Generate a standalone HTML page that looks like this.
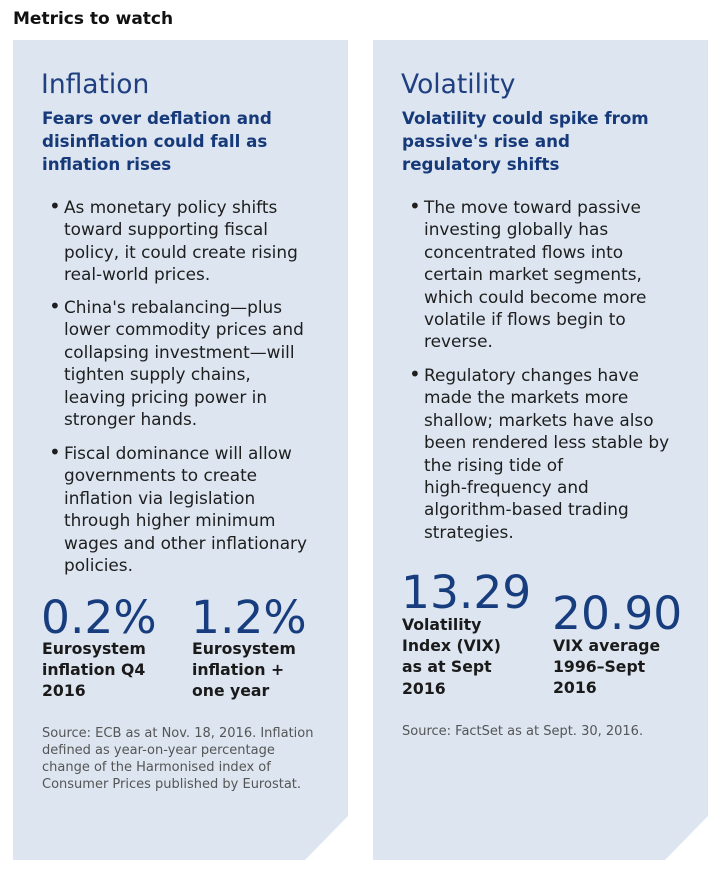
<!DOCTYPE html>
<html><head><meta charset="utf-8"><style>
body{margin:0;width:728px;height:889px;background:#fff;position:relative;overflow:hidden;font-family:"DejaVu Sans","Liberation Sans",sans-serif;color:#1e1e1e}
.a{position:absolute;white-space:nowrap}
.h{font-size:21px;font-weight:bold;color:#111}
.t{font-size:26.5px;color:#1f3f80}
.sub{font-size:16.7px;font-weight:bold;color:#16397a;line-height:23px}
.b{font-size:16.9px;line-height:22.4px}
.dot{position:absolute;left:-15px;top:-1px;font-size:20px}
.n{font-size:45.5px;color:#173d7f;line-height:1}
.l{font-size:15.7px;font-weight:bold;line-height:21.2px;color:#1a1a1a}
.s{font-size:13px;color:#555;line-height:17px}
</style></head><body>
<div class="a h" style="left:13px;top:9px;font-size:17px">Metrics to watch</div>
<svg class="a" style="left:0;top:0" width="728" height="889">
<polygon points="13,40 348,40 348,816 305,860 13,860" fill="#dce5f0"/>
<polygon points="373,40 708,40 708,816 665,860 373,860" fill="#dce5f0"/>
</svg>
<div>
<div class="a t" style="left:41px;top:69px">Inflation</div>
<div class="a sub" style="left:42px;top:107px">Fears over deflation and<br>disinflation could fall as<br>inflation rises</div>
<div class="a b" style="left:64px;top:196px"><span class="dot">•</span>As monetary policy shifts<br>toward supporting fiscal<br>policy, it could create rising<br>real-world prices.</div>
<div class="a b" style="left:64px;top:296px"><span class="dot">•</span>China's rebalancing—plus<br>lower commodity prices and<br>collapsing investment—will<br>tighten supply chains,<br>leaving pricing power in<br>stronger hands.</div>
<div class="a b" style="left:64px;top:442px"><span class="dot">•</span>Fiscal dominance will allow<br>governments to create<br>inflation via legislation<br>through higher minimum<br>wages and other inflationary<br>policies.</div>
<div class="a n" style="left:41px;top:595px">0.2%</div>
<div class="a l" style="left:42px;top:638px">Eurosystem<br>inflation Q4<br>2016</div>
<div class="a n" style="left:191px;top:595px">1.2%</div>
<div class="a l" style="left:192px;top:638px">Eurosystem<br>inflation +<br>one year</div>
<div class="a s" style="left:42px;top:725px">Source: ECB as at Nov. 18, 2016. Inflation<br>defined as year-on-year percentage<br>change of the Harmonised index of<br>Consumer Prices published by Eurostat.</div>
</div>
<div>
<div class="a t" style="left:401px;top:69px">Volatility</div>
<div class="a sub" style="left:402px;top:107px">Volatility could spike from<br>passive's rise and<br>regulatory shifts</div>
<div class="a b" style="left:424px;top:196px"><span class="dot">•</span>The move toward passive<br>investing globally has<br>concentrated flows into<br>certain market segments,<br>which could become more<br>volatile if flows begin to<br>reverse.</div>
<div class="a b" style="left:424px;top:364px"><span class="dot">•</span>Regulatory changes have<br>made the markets more<br>shallow; markets have also<br>been rendered less stable by<br>the rising tide of<br>high-frequency and<br>algorithm-based trading<br>strategies.</div>
<div class="a n" style="left:401px;top:570px">13.29</div>
<div class="a l" style="left:402px;top:614px">Volatility<br>Index (VIX)<br>as at Sept<br>2016</div>
<div class="a n" style="left:552px;top:591px">20.90</div>
<div class="a l" style="left:553px;top:635px">VIX average<br>1996–Sept<br>2016</div>
<div class="a s" style="left:402px;top:723px">Source: FactSet as at Sept. 30, 2016.</div>
</div>
</body></html>
